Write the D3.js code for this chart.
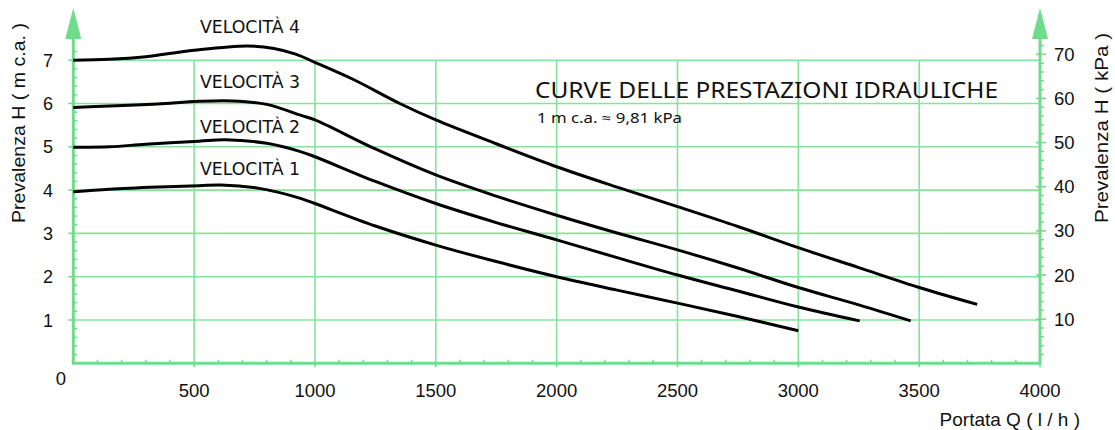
<!DOCTYPE html>
<html><head><meta charset="utf-8">
<script src="https://cdn.jsdelivr.net/npm/d3@7"></script>
<style>
html,body{margin:0;padding:0;background:#fff;}
svg{display:block;}
text{font-family:"Liberation Sans",Arial,sans-serif;fill:#111;}
</style></head>
<body>
<svg id="c" width="1115" height="430"></svg>
<script>
// ---- data ----
const xTicks = [500, 1000, 1500, 2000, 2500, 3000, 3500, 4000];
const yTicks = [1, 2, 3, 4, 5, 6, 7];
const kpaTicks = [10, 20, 30, 40, 50, 60, 70];
const seriesNames = ["VELOCITÀ 1", "VELOCITÀ 2", "VELOCITÀ 3", "VELOCITÀ 4"];
const vel1 = [[0,3.96],[150,4.02],[350,4.07],[520,4.10],[610,4.12],[770,4.04],[940,3.81],[1000,3.69],[1250,3.17],[1500,2.73],[1750,2.35],[2000,2.00],[2250,1.69],[2500,1.39],[2750,1.08],[3000,0.75]];
const vel2 = [[0,4.99],[150,5.00],[300,5.06],[520,5.13],[630,5.16],[800,5.08],[940,4.89],[1000,4.77],[1250,4.20],[1500,3.69],[1750,3.25],[2000,2.85],[2250,2.44],[2500,2.04],[2750,1.67],[3000,1.30],[3254,0.98]];
const vel3 = [[0,5.91],[150,5.94],[350,5.99],[520,6.05],[660,6.06],[800,5.98],[940,5.73],[1000,5.62],[1250,4.95],[1500,4.35],[1750,3.86],[2000,3.42],[2250,3.01],[2500,2.62],[2750,2.20],[3000,1.75],[3250,1.35],[3465,0.98]];
const vel4 = [[0,7.00],[150,7.02],[300,7.08],[500,7.23],[720,7.33],[830,7.27],[920,7.14],[1000,6.95],[1157,6.56],[1351,6.00],[1500,5.62],[1750,5.07],[2000,4.54],[2250,4.07],[2500,3.62],[2750,3.16],[3000,2.67],[3250,2.21],[3500,1.75],[3740,1.36]];
const title = "CURVE DELLE PRESTAZIONI IDRAULICHE";
const subtitle = "1 m c.a. \u2248  9,81 kPa";
const yTitle = "Prevalenza H  ( m c.a. )";
const y2Title = "Prevalenza H  ( kPa )";
const xTitle = "Portata Q  ( l / h )";
const KPA_PER_M = 9.81;

// ---- layout ----
const svg = d3.select("#c");
const x = d3.scaleLinear([0, 4000], [73.3, 1040]);
const y = d3.scaleLinear([0, 7], [363.3, 60.2]);
const yk = d3.scaleLinear([0, 70], [363.3, y(70 / KPA_PER_M)]);
const GRID = "#86e39a", AXIS = "#6fdc8b";

const g = svg.append("g");
// grid
g.selectAll(".hg").data(yTicks).join("line")
  .attr("x1", x(0)).attr("x2", x(4000)).attr("y1", d => y(d)).attr("y2", d => y(d))
  .attr("stroke", GRID).attr("stroke-width", 1.6);
g.selectAll(".vg").data(xTicks.slice(0, -1)).join("line")
  .attr("x1", d => x(d)).attr("x2", d => x(d)).attr("y1", y(0)).attr("y2", y(7))
  .attr("stroke", GRID).attr("stroke-width", 1.6);

// minor ticks
const axTop = 38;
const leftMinor = d3.range(1, 37).filter(i => i % 5 !== 0).map(i => i * 0.2);
g.selectAll(".lm").data(leftMinor.filter(v => y(v) > axTop + 2)).join("line")
  .attr("x1", x(0)).attr("x2", x(0) + 4).attr("y1", d => y(d)).attr("y2", d => y(d))
  .attr("stroke", AXIS).attr("stroke-width", 1.5);
const bottomMinor = d3.range(1, 40).filter(i => i % 5 !== 0).map(i => i * 100);
g.selectAll(".bm").data(bottomMinor).join("line")
  .attr("x1", d => x(d)).attr("x2", d => x(d)).attr("y1", y(0)).attr("y2", y(0) - 3.5)
  .attr("stroke", AXIS).attr("stroke-width", 1.5);
const rightMinor = d3.range(1, 38).filter(i => i % 5 !== 0).map(i => i * 2);
g.selectAll(".rm").data(rightMinor.filter(v => yk(v) > axTop + 2)).join("line")
  .attr("x1", x(4000)).attr("x2", x(4000) + 4).attr("y1", d => yk(d)).attr("y2", d => yk(d))
  .attr("stroke", AXIS).attr("stroke-width", 1.5);

// major ticks
g.selectAll(".lM").data(yTicks).join("line")
  .attr("x1", x(0) - 5).attr("x2", x(0)).attr("y1", d => y(d)).attr("y2", d => y(d))
  .attr("stroke", AXIS).attr("stroke-width", 1.6);
g.selectAll(".bM").data(xTicks).join("line")
  .attr("x1", d => x(d)).attr("x2", d => x(d)).attr("y1", y(0)).attr("y2", y(0) + 4)
  .attr("stroke", AXIS).attr("stroke-width", 1.6);
g.selectAll(".rM").data(kpaTicks).join("line")
  .attr("x1", x(4000) - 4).attr("x2", x(4000) + 6).attr("y1", d => yk(d)).attr("y2", d => yk(d))
  .attr("stroke", AXIS).attr("stroke-width", 1.6);

// axes lines
g.append("line").attr("x1", x(0)).attr("x2", x(0)).attr("y1", y(0) + 1.5).attr("y2", axTop).attr("stroke", AXIS).attr("stroke-width", 3);
g.append("line").attr("x1", x(4000)).attr("x2", x(4000)).attr("y1", y(0) + 1.5).attr("y2", axTop).attr("stroke", AXIS).attr("stroke-width", 3);
g.append("line").attr("x1", x(0)).attr("x2", x(4000)).attr("y1", y(0)).attr("y2", y(0)).attr("stroke", AXIS).attr("stroke-width", 3);
// arrows
[x(0), x(4000)].forEach(cx => {
  g.append("path").attr("d", `M${cx},8 L${cx + 8},39 L${cx - 8},39 Z`).attr("fill", AXIS);
});

// curves
const line = d3.line().x(d => x(d[0])).y(d => y(d[1])).curve(d3.curveCatmullRom.alpha(0.5));
[vel1, vel2, vel3, vel4].forEach(s => {
  g.append("path").attr("d", line(s)).attr("fill", "none").attr("stroke", "#000")
    .attr("stroke-width", 3).attr("stroke-linecap", "butt");
});

// curve labels
const labelY = [175, 133.3, 88.3, 33];
seriesNames.forEach((n, i) => {
  g.append("text").attr("x", 200).attr("y", labelY[i]).text(n)
    .style("font-family", "Tahoma,'DejaVu Sans Condensed','Noto Sans',sans-serif")
    .attr("font-size", 17).attr("textLength", 100).attr("lengthAdjust", "spacingAndGlyphs");
});

// tick labels
g.selectAll(".yl").data(yTicks).join("text")
  .attr("x", 53).attr("y", d => y(d) + 6.5).attr("text-anchor", "end")
  .attr("font-size", 18).text(d => d);
g.selectAll(".xl").data(xTicks).join("text")
  .attr("x", d => x(d)).attr("y", 397).attr("text-anchor", "middle")
  .attr("font-size", 18.5).text(d => d);
g.append("text").attr("x", 61).attr("y", 385).attr("text-anchor", "middle").attr("font-size", 18.5).text(0);
g.selectAll(".kl").data(kpaTicks).join("text")
  .attr("x", 1054).attr("y", d => yk(d) + 6.5).attr("text-anchor", "start")
  .attr("font-size", 18.5).text(d => d);

// axis titles
g.append("text").attr("transform", "translate(25,223) rotate(-90)").attr("font-size", 19)
  .attr("textLength", 200).attr("lengthAdjust", "spacingAndGlyphs").text(yTitle);
g.append("text").attr("transform", "translate(1108,223) rotate(-90)").attr("font-size", 19)
  .attr("textLength", 190).attr("lengthAdjust", "spacingAndGlyphs").text(y2Title);
g.append("text").attr("x", 1080).attr("y", 426).attr("text-anchor", "end").attr("font-size", 19)
  .text(xTitle);

// title
g.append("text").attr("x", 535).attr("y", 98).attr("font-size", 22.5)
  .style("font-family", "'Noto Sans','Open Sans',sans-serif")
  .attr("textLength", 463).attr("lengthAdjust", "spacingAndGlyphs").text(title);
g.append("text").attr("x", 537).attr("y", 122.5).attr("font-size", 14)
  .style("font-family", "'Noto Sans','Open Sans',sans-serif")
  .attr("textLength", 145).attr("lengthAdjust", "spacingAndGlyphs").text(subtitle);
</script>
</body></html>
